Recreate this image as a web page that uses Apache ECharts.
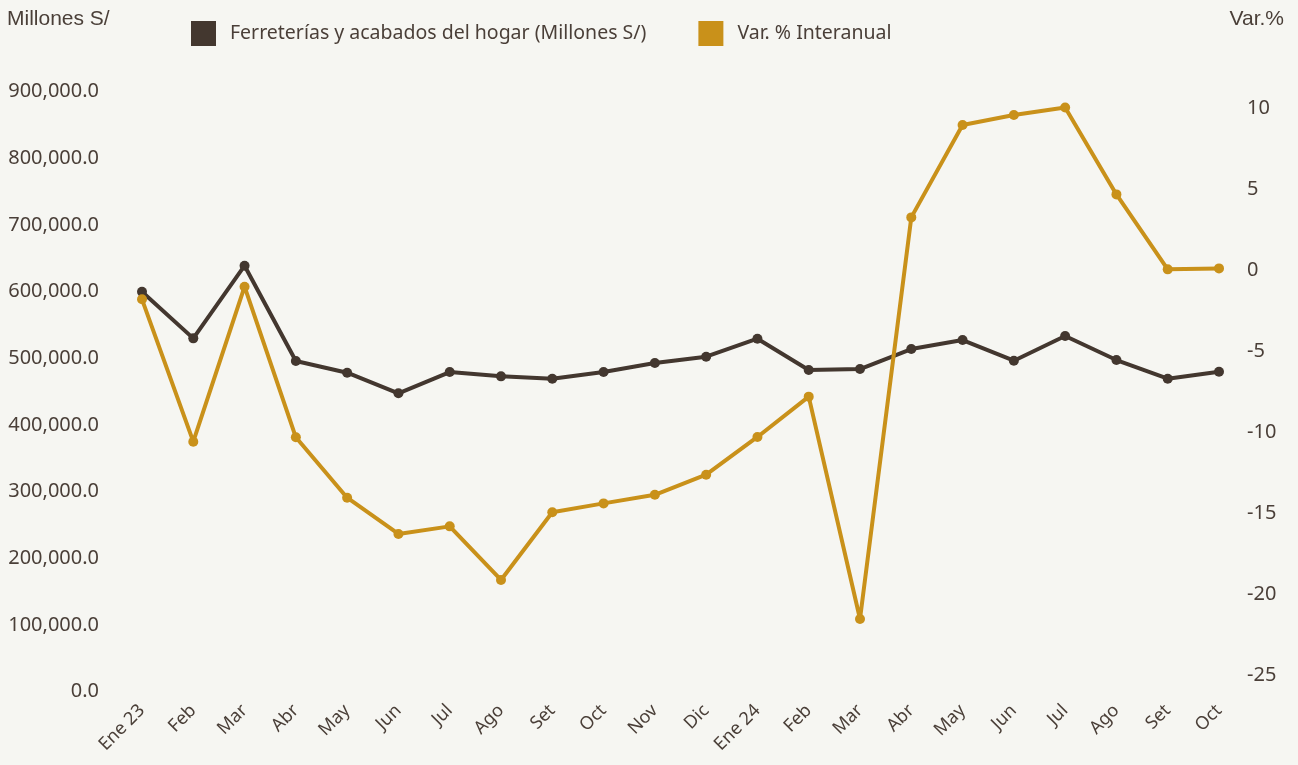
<!DOCTYPE html>
<html>
<head>
<meta charset="utf-8">
<script src="https://cdn.jsdelivr.net/npm/echarts@6/dist/echarts.min.js"></script>
<style>
html,body{margin:0;padding:0;background:#f6f6f2;}
#chart{width:1298px;height:765px;}
</style>
</head>
<body>
<div id="chart"></div>
<script>
var categories = ['Ene 23','Feb','Mar','Abr','May','Jun','Jul','Ago','Set','Oct','Nov','Dic','Ene 24','Feb','Mar','Abr','May','Jun','Jul','Ago','Set','Oct'];
var ventas = [600000, 530000, 639000, 496000, 478500, 447600, 479500, 473000, 469500, 479500, 493000, 502500, 529500, 482500, 484000, 514000, 527500, 496500, 533500, 497500, 469500, 480000];
var variacion = [-1.79, -10.58, -1.01, -10.31, -14.04, -16.28, -15.81, -19.12, -14.94, -14.39, -13.86, -12.62, -10.29, -7.80, -21.53, 3.27, 8.97, 9.59, 10.06, 4.69, 0.06, 0.12];
var seriesNames = ['Ferreterías y acabados del hogar (Millones S/)', 'Var. % Interanual'];
var axisNames = ['Millones S/', 'Var.%'];

var textColor = '#4a3f38';
var darkColor = '#43372f';
var goldColor = '#c9911a';

function fmtMillions(v){
  var s = Math.round(v).toString().replace(/\B(?=(\d{3})+(?!\d))/g, ',');
  return s + '.0';
}

var chart = echarts.init(document.getElementById('chart'), null, {renderer:'canvas'});
chart.setOption({
  backgroundColor: '#f6f6f2',
  animation: false,
  textStyle: {fontFamily: 'Noto Sans'},
  legend: {
    left: 186, top: 16,
    itemWidth: 25, itemHeight: 25, itemGap: 52,
    icon: 'rect',
    textStyle: {fontFamily: 'Noto Sans', fontSize: 19.5, color: textColor, padding: [0,0,0,9]},
    data: seriesNames
  },
  graphic: [
    {type:'text', left: 7, top: 9, style:{text: axisNames[0], fontFamily:'Liberation Sans', fontSize: 21, fill: textColor}},
    {type:'text', right: 14, top: 9, style:{text: axisNames[1], fontFamily:'Liberation Sans', fontSize: 21, fill: textColor}}
  ],
  grid: [
    {left: 142, right: 79, top: 91.7, bottom: 73.3},
    {left: 142, right: 79, top: 108.4, bottom: 89.8}
  ],
  xAxis: [
    {type:'category', gridIndex:0, data: categories, boundaryGap:false,
     axisLine:{show:false}, axisTick:{show:false}, splitLine:{show:false},
     axisLabel:{rotate:45, margin:16, fontSize:18, color:textColor, fontFamily:'Noto Sans', interval:0}},
    {type:'category', gridIndex:1, data: categories, boundaryGap:false, show:false}
  ],
  yAxis: [
    {type:'value', gridIndex:0, position:'left', min:0, max:900000, interval:100000,
     axisLine:{show:false}, axisTick:{show:false}, splitLine:{show:false},
     axisLabel:{margin:43, fontSize:20, color:textColor, fontFamily:'Noto Sans', formatter: fmtMillions}},
    {type:'value', gridIndex:1, position:'right', min:-25, max:10, interval:5,
     axisLine:{show:false}, axisTick:{show:false}, splitLine:{show:false},
     axisLabel:{margin:28, fontSize:20, color:textColor, fontFamily:'Noto Sans'}}
  ],
  series: [
    {name: seriesNames[0], type:'line', xAxisIndex:0, yAxisIndex:0, data: ventas,
     symbol:'circle', symbolSize:10, clip:false,
     lineStyle:{color:darkColor, width:4}, itemStyle:{color:darkColor}, z:2},
    {name: seriesNames[1], type:'line', xAxisIndex:1, yAxisIndex:1, data: variacion,
     symbol:'circle', symbolSize:10, clip:false,
     lineStyle:{color:goldColor, width:4}, itemStyle:{color:goldColor}, z:3}
  ]
});
</script>
</body>
</html>
